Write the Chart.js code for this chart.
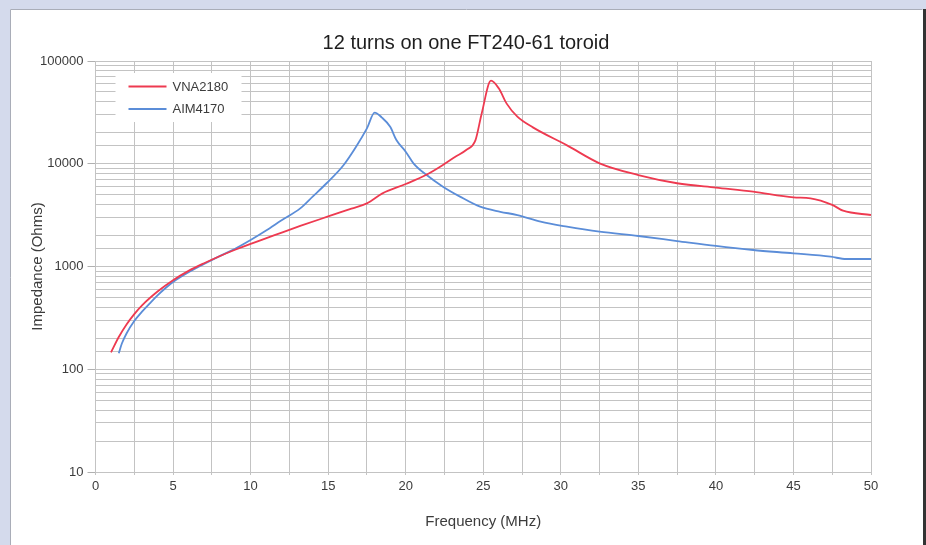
<!DOCTYPE html>
<html><head><meta charset="utf-8">
<script src="https://cdn.jsdelivr.net/npm/chart.js@4/dist/chart.umd.min.js"></script>
<style>html,body{margin:0;padding:0;background:#d4daec;overflow:hidden}</style>
</head><body>
<canvas id="c" width="926" height="545"></canvas>
<script>
const chartTitle = '12 turns on one FT240-61 toroid';
const xAxisTitle = 'Frequency (MHz)';
const yAxisTitle = 'Impedance (Ohms)';
const seriesNames = ['VNA2180', 'AIM4170'];
const seriesColors = ['#ee3a50', '#5b8dd8'];

const vnaFreq = [1.0, 1.5, 2.0, 2.5, 3.0, 4.0, 5.0, 6.0, 7.0, 8.0, 9.0, 10, 11.5, 13.2, 15, 16.5, 17.5, 18.5, 20, 21.3, 22.4, 23.2, 23.9, 24.5, 24.9, 25.5, 26.0, 26.5, 27.2, 28.2, 30.4, 32.5, 35, 37.5, 40, 42.4, 45, 46.1, 47.5, 48.2, 50];
const vnaImpedance = [146, 206, 273, 344, 419, 571, 736, 906, 1076, 1259, 1455, 1663, 2005, 2480, 3070, 3660, 4120, 5150, 6350, 7760, 9730, 11700, 13600, 17000, 30900, 64300, 54200, 38700, 28700, 22600, 15100, 10100, 7760, 6460, 5850, 5350, 4710, 4610, 3980, 3490, 3170];

const aimFreq = [1.5, 1.7, 2.0, 2.5, 3.0, 3.5, 4.0, 4.5, 5.0, 6.0, 7.0, 8.0, 9.0, 10, 11, 12, 13.2, 14.0, 14.9, 16.0, 16.8, 17.5, 18.0, 18.45, 19.0, 19.4, 20.0, 20.5, 21.35, 22.4, 23.5, 24.8, 26.1, 27.2, 28.7, 30.4, 32.5, 35, 37.5, 40, 42.4, 45, 47.4, 48.4, 50];
const aimImpedance = [143, 178, 223, 295, 363, 437, 523, 614, 708, 881, 1059, 1262, 1490, 1811, 2239, 2818, 3680, 4790, 6460, 9730, 14650, 22100, 31400, 28300, 22900, 17000, 13100, 10100, 7760, 5980, 4790, 3820, 3410, 3170, 2730, 2440, 2180, 1980, 1770, 1584, 1448, 1343, 1245, 1183, 1183];

const xTickLabels = [0, 5, 10, 15, 20, 25, 30, 35, 40, 45, 50];
const yTickLabels = [10, 100, 1000, 10000, 100000];

const FONT = '"Liberation Sans", Arial, sans-serif';
const GRID = '#c3c3c3';
const TEXT = '#3c3c3c';

const pageFrame = {
  id: 'pageFrame',
  beforeDraw(chart) {
    const ctx = chart.ctx;
    ctx.save();
    ctx.fillStyle = '#d4daec';
    ctx.fillRect(0, 0, chart.width, chart.height);
    ctx.fillStyle = '#ffffff';
    ctx.fillRect(10, 9, 913, chart.height);
    ctx.strokeStyle = '#a9adb8';
    ctx.lineWidth = 1;
    ctx.beginPath();
    ctx.moveTo(10.5, chart.height); ctx.lineTo(10.5, 9.5); ctx.lineTo(922.5, 9.5);
    ctx.stroke();
    ctx.fillStyle = '#333333';
    ctx.fillRect(923, 9, 3, chart.height);
    ctx.restore();
  }
};

const insideLegend = {
  id: 'insideLegend',
  afterDatasetsDraw(chart) {
    const ctx = chart.ctx;
    const a = chart.chartArea;
    const left = a.left + 20, top = a.top + 12;
    ctx.save();
    ctx.fillStyle = '#ffffff';
    ctx.fillRect(left, top, 126, 49);
    ctx.font = '13px ' + FONT;
    ctx.textBaseline = 'middle';
    ctx.textAlign = 'left';
    chart.data.datasets.forEach((ds, i) => {
      const y = top + 13.5 + i * 22.5;
      ctx.strokeStyle = ds.borderColor;
      ctx.lineWidth = 1.8;
      ctx.beginPath();
      ctx.moveTo(left + 13, y); ctx.lineTo(left + 51, y);
      ctx.stroke();
      ctx.fillStyle = TEXT;
      ctx.fillText(ds.label, left + 57, y + 0.5);
    });
    ctx.restore();
  }
};

const toPoints = (xs, ys) => xs.map((x, i) => ({ x: x, y: ys[i] }));

new Chart(document.getElementById('c'), {
  type: 'line',
  data: {
    datasets: [
      { label: seriesNames[0], data: toPoints(vnaFreq, vnaImpedance), borderColor: seriesColors[0], borderWidth: 1.8, pointRadius: 0, cubicInterpolationMode: 'monotone', fill: false },
      { label: seriesNames[1], data: toPoints(aimFreq, aimImpedance), borderColor: seriesColors[1], borderWidth: 1.8, pointRadius: 0, cubicInterpolationMode: 'monotone', fill: false }
    ]
  },
  options: {
    responsive: false,
    animation: false,
    devicePixelRatio: 1,
    layout: { padding: { left: 6, right: 0, top: 0, bottom: 0 } },
    plugins: {
      legend: { display: false },
      tooltip: { enabled: false },
      title: {
        display: true, text: chartTitle, color: '#1e1e1e',
        font: { family: FONT, size: 20, weight: 'normal', lineHeight: 1.2 },
        padding: { top: 31, bottom: 6 }
      }
    },
    scales: {
      x: {
        type: 'linear', min: 0, max: 50,
        afterFit(s) { s.height = 73; },
        ticks: {
          stepSize: 2.5, autoSkip: false, maxRotation: 0, color: TEXT, padding: 4,
          font: { family: FONT, size: 13 },
          callback(v) { return xTickLabels.includes(v) ? String(v) : ''; }
        },
        grid: { color: GRID, lineWidth: 1, tickLength: 3, tickColor: GRID },
        border: { color: GRID },
        title: { display: true, text: xAxisTitle, color: TEXT, font: { family: FONT, size: 15 }, padding: { top: 0, bottom: 14 } }
      },
      y: {
        type: 'logarithmic', min: 10, max: 100000,
        afterFit(s) { s.width = 89.5; },
        ticks: {
          autoSkip: false, color: TEXT, padding: 4,
          font: { family: FONT, size: 13 },
          callback(v) { return yTickLabels.includes(v) ? String(v) : ''; }
        },
        grid: {
          color: GRID, lineWidth: 1, tickLength: 8,
          tickColor: (c) => (c.tick && yTickLabels.includes(c.tick.value)) ? '#b0b0b0' : 'rgba(0,0,0,0)'
        },
        border: { color: GRID },
        title: { display: true, text: yAxisTitle, color: TEXT, font: { family: FONT, size: 15 }, padding: { top: 23, bottom: 0 } }
      },
      yRightSpace: {
        type: 'linear', position: 'right', display: true,
        afterFit(s) { s.width = 55; },
        grid: { display: false, drawOnChartArea: false },
        ticks: { display: false },
        border: { display: false }
      }
    }
  },
  plugins: [pageFrame, insideLegend]
});
</script>
</body></html>
